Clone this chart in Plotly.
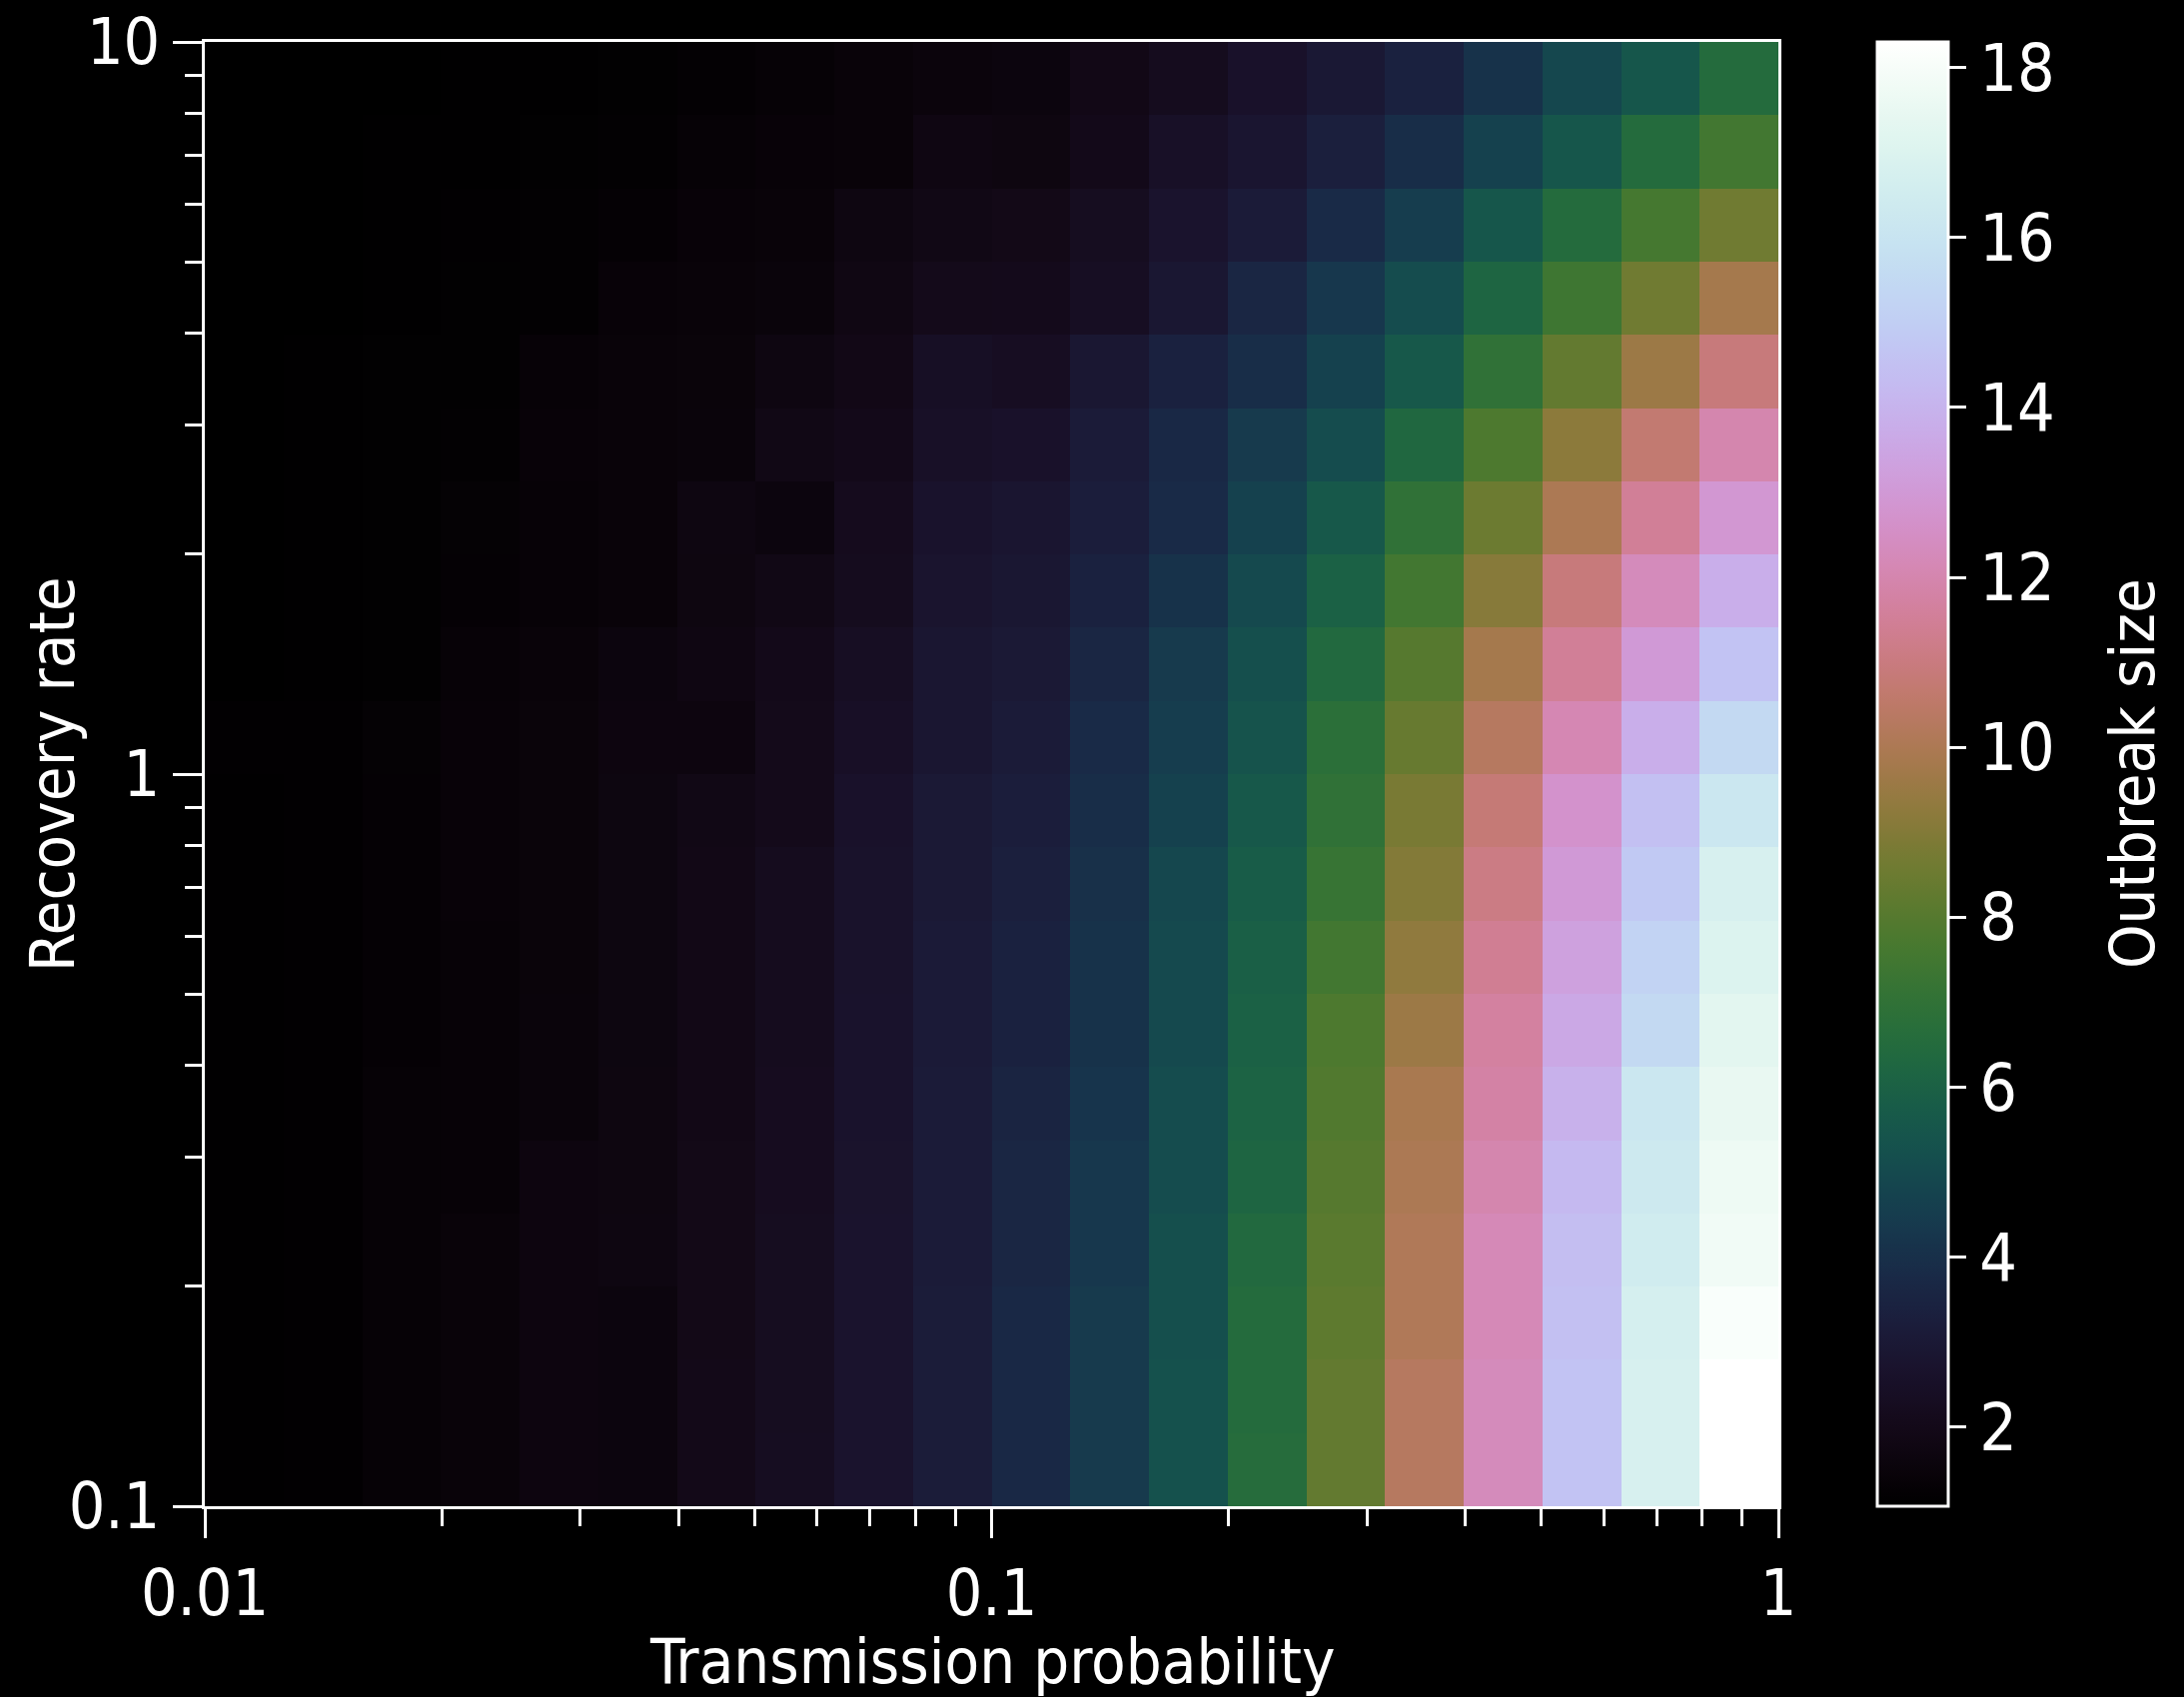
import numpy as np
import plotly.graph_objects as go

# Parameter grid: 20 log-spaced bins on each axis (bin edges)
trans_edges = np.logspace(-2, 0, 21)   # transmission probability
recov_edges = np.logspace(-1, 1, 21)   # recovery rate

# Mean outbreak size per bin; one row per recovery-rate bin (lowest rate first),
# one column per transmission-probability bin (lowest probability first)
outbreak_size = [
    [1.12, 1.16, 1.32, 1.45, 1.65, 1.60, 1.98, 2.28, 2.72, 3.15, 3.7, 4.4, 5.3, 6.6, 8.3, 10.3, 12.3, 14.6, 16.8, 18.3],
    [1.12, 1.16, 1.32, 1.45, 1.65, 1.60, 1.98, 2.25, 2.70, 3.15, 3.7, 4.4, 5.3, 6.5, 8.3, 10.3, 12.3, 14.6, 16.8, 18.3],
    [1.12, 1.16, 1.32, 1.45, 1.65, 1.60, 1.95, 2.25, 2.70, 3.15, 3.7, 4.4, 5.2, 6.5, 8.2, 10.1, 12.2, 14.5, 16.7, 18.1],
    [1.12, 1.16, 1.32, 1.45, 1.65, 1.72, 1.95, 2.25, 2.70, 3.10, 3.6, 4.3, 5.2, 6.4, 8.1, 10.1, 12.2, 14.4, 16.5, 17.8],
    [1.12, 1.16, 1.32, 1.35, 1.65, 1.70, 1.95, 2.22, 2.68, 3.10, 3.6, 4.3, 5.1, 6.2, 8.0, 10.0, 12.0, 14.2, 16.3, 17.7],
    [1.12, 1.16, 1.32, 1.35, 1.52, 1.70, 1.92, 2.22, 2.65, 3.10, 3.5, 4.2, 5.1, 6.1, 7.9, 9.9, 11.8, 13.9, 16.2, 17.5],
    [1.12, 1.16, 1.28, 1.35, 1.50, 1.68, 1.92, 2.20, 2.65, 3.05, 3.4, 4.1, 5.0, 6.0, 7.8, 9.6, 11.7, 13.6, 15.5, 17.3],
    [1.12, 1.16, 1.28, 1.35, 1.48, 1.68, 1.90, 2.20, 2.62, 3.05, 3.4, 4.1, 5.0, 5.9, 7.5, 9.3, 11.4, 13.3, 15.2, 17.0],
    [1.12, 1.16, 1.28, 1.38, 1.48, 1.68, 1.90, 2.20, 2.62, 3.00, 3.3, 4.0, 4.9, 5.8, 7.2, 9.0, 11.1, 13.0, 14.8, 16.8],
    [1.12, 1.16, 1.28, 1.38, 1.48, 1.68, 1.88, 2.05, 2.60, 3.00, 3.2, 3.9, 4.7, 5.6, 7.0, 8.8, 10.8, 12.7, 14.5, 16.2],
    [1.15, 1.15, 1.30, 1.38, 1.48, 1.65, 1.65, 2.05, 2.45, 2.85, 3.1, 3.8, 4.5, 5.4, 6.8, 8.4, 10.3, 12.1, 13.8, 15.5],
    [1.08, 1.12, 1.18, 1.35, 1.42, 1.62, 1.75, 2.00, 2.35, 2.85, 3.0, 3.6, 4.4, 5.2, 6.4, 8.0, 9.8, 11.5, 13.0, 14.6],
    [1.08, 1.12, 1.18, 1.28, 1.35, 1.45, 1.70, 1.85, 2.20, 2.75, 2.9, 3.4, 4.1, 5.0, 6.0, 7.5, 9.1, 10.9, 12.3, 13.8],
    [1.08, 1.12, 1.18, 1.30, 1.35, 1.45, 1.72, 1.60, 2.15, 2.65, 2.8, 3.2, 3.8, 4.7, 5.6, 7.0, 8.5, 10.0, 11.5, 12.9],
    [1.08, 1.10, 1.18, 1.22, 1.38, 1.42, 1.52, 1.85, 2.00, 2.50, 2.6, 3.1, 3.7, 4.4, 5.1, 6.3, 7.8, 9.2, 10.7, 12.0],
    [1.08, 1.10, 1.18, 1.18, 1.35, 1.42, 1.48, 1.72, 1.90, 2.40, 2.3, 2.9, 3.4, 3.9, 4.7, 5.6, 7.0, 8.3, 9.6, 10.9],
    [1.08, 1.09, 1.12, 1.18, 1.22, 1.38, 1.45, 1.50, 1.78, 2.05, 2.1, 2.35, 2.9, 3.6, 4.3, 5.1, 6.2, 7.4, 8.6, 9.8],
    [1.08, 1.09, 1.10, 1.15, 1.22, 1.28, 1.38, 1.42, 1.72, 1.85, 1.95, 2.25, 2.7, 3.1, 3.8, 4.5, 5.5, 6.5, 7.6, 8.6],
    [1.08, 1.09, 1.10, 1.12, 1.18, 1.20, 1.32, 1.38, 1.45, 1.75, 1.7, 2.0, 2.5, 2.8, 3.3, 3.9, 4.7, 5.5, 6.5, 7.5],
    [1.07, 1.08, 1.09, 1.10, 1.12, 1.18, 1.25, 1.32, 1.42, 1.55, 1.6, 1.9, 2.2, 2.6, 2.95, 3.4, 4.1, 4.9, 5.5, 6.5],
]

x_tick_vals = [0.01, 0.1, 1]
x_tick_text = ["0.01", "0.1", "1"]
y_tick_vals = [0.1, 1, 10]
y_tick_text = ["0.1", "1", "10"]
cbar_ticks = [2, 4, 6, 8, 10, 12, 14, 16, 18]


def cubehelix_scale(n=96, start=0.5, rot=-1.5, hue=1.0, gamma=1.0):
    """Green's cubehelix colour scheme as a Plotly colorscale."""
    stops = []
    for i in range(n):
        f = i / (n - 1)
        fg = f ** gamma
        phi = 2 * np.pi * (start / 3 + rot * f)
        amp = hue * fg * (1 - fg) / 2
        r = fg + amp * (-0.14861 * np.cos(phi) + 1.78277 * np.sin(phi))
        g = fg + amp * (-0.29227 * np.cos(phi) - 0.90649 * np.sin(phi))
        b = fg + amp * (1.97294 * np.cos(phi))
        rgb = [int(round(255 * min(max(c, 0), 1))) for c in (r, g, b)]
        stops.append([f, f"rgb({rgb[0]},{rgb[1]},{rgb[2]})"])
    return stops


def minor_ticks(lo_exp, hi_exp):
    return [m * 10.0 ** e for e in range(lo_exp, hi_exp) for m in range(2, 10)]


FONT = "DejaVu Sans Condensed, Liberation Sans Narrow, DejaVu Sans, sans-serif"

W, H = 2186, 1699
L, R, T, B = 205, 1780, 42, 1508
PW, PH = R - L, B - T

fig = go.Figure(
    go.Heatmap(
        z=outbreak_size,
        x=trans_edges,
        y=recov_edges,
        colorscale=cubehelix_scale(),
        showscale=True,
        colorbar=dict(
            x=(1879 - L) / PW,
            xanchor="left",
            y=0.5,
            yanchor="middle",
            len=1,
            lenmode="fraction",
            thickness=71,
            xpad=0,
            ypad=0,
            outlinewidth=3,
            outlinecolor="white",
            tickmode="array",
            tickvals=cbar_ticks,
            ticks="outside",
            ticklen=17,
            tickwidth=3,
            tickcolor="white",
            tickfont=dict(family=FONT, size=66, color="white"),
        ),
    )
)

axis_common = dict(
    type="log",
    automargin=False,
    showgrid=False,
    zeroline=False,
    showline=True,
    linecolor="white",
    linewidth=3,
    mirror=True,
    ticks="outside",
    ticklen=29,
    tickwidth=3,
    tickcolor="white",
    tickfont=dict(family=FONT, size=64, color="white"),
    tickmode="array",
)

fig.update_xaxes(
    **axis_common,
    range=[-2, 0],
    tickvals=x_tick_vals,
    ticktext=x_tick_text,
    minor=dict(tickmode="array", tickvals=minor_ticks(-2, 0), ticks="outside",
               ticklen=17, tickwidth=3, tickcolor="white"),
)
fig.update_yaxes(
    **axis_common,
    range=[-1, 1],
    tickvals=y_tick_vals,
    ticktext=y_tick_text,
    minor=dict(tickmode="array", tickvals=minor_ticks(-1, 1), ticks="outside",
               ticklen=17, tickwidth=3, tickcolor="white"),
)

title_font = dict(family=FONT, size=63, color="white")


def px_x(px):
    return (px - L) / PW


def px_y(py):
    return (B - py) / PH


fig.update_layout(
    width=W,
    height=H,
    autosize=False,
    margin=dict(l=L, r=W - R, t=T, b=H - B, pad=0, autoexpand=False),
    paper_bgcolor="black",
    plot_bgcolor="black",
    font=dict(family=FONT, color="white"),
    annotations=[
        dict(text="Transmission probability", xref="paper", yref="paper",
             x=px_x(993), y=px_y(1663), xanchor="center", yanchor="middle",
             showarrow=False, font=title_font),
        dict(text="Recovery rate", xref="paper", yref="paper",
             x=px_x(52), y=px_y(775), xanchor="center", yanchor="middle",
             textangle=-90, showarrow=False, font=title_font),
        dict(text="Outbreak size", xref="paper", yref="paper",
             x=px_x(2134), y=px_y(775), xanchor="center", yanchor="middle",
             textangle=-90, showarrow=False, font=title_font),
    ],
)

fig.write_html("out.html")
